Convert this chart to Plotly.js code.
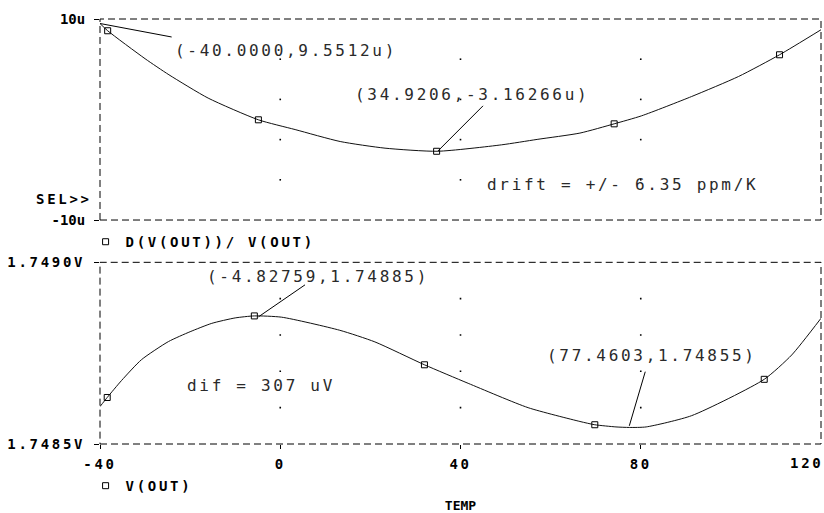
<!DOCTYPE html>
<html><head><meta charset="utf-8">
<script src="https://cdn.plot.ly/plotly-3.0.1.min.js"></script>
<style>
html,body{margin:0;padding:0;background:#fff;}
#chart{width:824px;height:513px;}
.annotation-text, .xtick text, .ytick text {letter-spacing:2.7px;}
text.legendtext, text.legend2text {letter-spacing:2.7px !important;}
</style></head><body><div id="chart"></div>
<script>
// ---- top plot: D(V(OUT))/ V(OUT) in micro units ----
const tempTop  = [-40,-38.3,-30,-24.7,-16,-4.85,3.3,13.3,23.25,34.9,49.1,57,66.5,74.1,80.2,91.3,101.7,110.8,120];
const driftTop = [9.55,8.83,6.05,4.45,2.13,-0.03,-1.0,-2.19,-2.85,-3.16,-2.52,-1.98,-1.35,-0.43,0.37,2.29,4.28,6.44,8.93];
const markTopX = [-38.3,-4.85,34.7,74.1,110.8];
const markTopY = [8.83,-0.03,-3.16,-0.43,6.44];

// ---- bottom plot: V(OUT) in volts ----
const tempBot = [-40,-38.4,-35.2,-30.8,-24.8,-20,-15.2,-10,-5.75,0.3,13.2,21,32,41.7,55,66.5,69.8,74.5,77.5,81.2,91.3,107.4,113.5,120];
const voutBot = [1.748603,1.748628,1.748675,1.748732,1.748782,1.748809,1.748832,1.748847,1.7488525,1.748849,1.748813,1.748781,1.748718,1.748667,1.748600,1.748562,1.748553,1.748547,1.7485455,1.748547,1.748578,1.748678,1.748745,1.748846];
const markBotX = [-38.4,-5.75,32,69.8,107.4];
const markBotY = [1.748628,1.7488525,1.748718,1.748553,1.748678];

// ---- grid dots ----
const gridX    = [0,40,80];
const gridTopY = [6,2,-2,-6];
const gridBotY = [1.7489,1.7488,1.7487,1.7486];

// ---- axis tick labels ----
const xTickVals = [-40,0,40,80];
const xTickText = ['-40','0','40','80'];
const yTopVals = [-10,10], yTopText = ['-10u','10u'];
const yBotVals = [1.7485,1.7490], yBotText = ['1.7485V','1.7490V'];

// ---- cursors (point, label tail) ----
const curTopX = [-40, 34.9206], curTopY = [9.5512, -3.16266];
const curTopTailX = [-24.1, 45.0], curTopTailY = [8.21, 1.36];
const curBotX = [-4.82759, 77.4603], curBotY = [1.74885, 1.74855];
const curBotTailX = [5.5, 81.0], curBotTailY = [1.748938, 1.748699];

// ---- text labels ----
const topLabels = ['(-40.0000,9.5512u)','(34.9206,-3.16266u)','drift = +/- 6.35 ppm/K'];
const topLabelX = [-23.8, 16.15, 45.4];
const topLabelY = [6.84, 2.46, -6.5];
const botLabels = ['(-4.82759,1.74885)','dif = 307 uV','(77.4603,1.74855)'];
const botLabelX = [-16.7, -21.1, 58.8];
const botLabelY = [1.7489596, 1.74866, 1.748743];

const FONT = 'DejaVu Sans Mono';
const gx = [], gyT = [], gyB = [], gxB = [];
gridX.forEach(x => { gridTopY.forEach(y => { gx.push(x); gyT.push(y); }); gridBotY.forEach(y => { gxB.push(x); gyB.push(y); }); });

const traces = [
  {x: gx, y: gyT, xaxis:'x2', yaxis:'y2', mode:'markers', marker:{symbol:'square', size:1.6, color:'#000'}, showlegend:false, hoverinfo:'skip'},
  {x: gxB, y: gyB, xaxis:'x', yaxis:'y', mode:'markers', marker:{symbol:'square', size:1.6, color:'#000'}, showlegend:false, hoverinfo:'skip'},
  {x: tempTop, y: driftTop, xaxis:'x2', yaxis:'y2', mode:'lines', line:{color:'#111', width:1, shape:'spline', smoothing:0.6}, showlegend:false},
  {x: markTopX, y: markTopY, xaxis:'x2', yaxis:'y2', mode:'markers', name:'D(V(OUT))/ V(OUT)', legend:'legend2',
   marker:{symbol:'square-open', size:6, color:'#000', line:{width:1}}},
  {x: tempBot, y: voutBot, xaxis:'x', yaxis:'y', mode:'lines', line:{color:'#111', width:1, shape:'spline', smoothing:0.6}, showlegend:false},
  {x: markBotX, y: markBotY, xaxis:'x', yaxis:'y', mode:'markers', name:'V(OUT)', legend:'legend',
   marker:{symbol:'square-open', size:6, color:'#000', line:{width:1}}}
];

const tickFont = {family:FONT, size:14, weight:'bold', color:'#000'};
const dash = '7px,4px';
const shapes = [
  {type:'rect', xref:'x domain', yref:'y domain', x0:0, x1:1, y0:0, y1:1, line:{color:'#000', width:1, dash:dash}},
  {type:'rect', xref:'x2 domain', yref:'y2 domain', x0:0, x1:1, y0:0, y1:1, line:{color:'#000', width:1, dash:dash}}
];
curTopX.forEach((x,i) => shapes.push({type:'line', xref:'x2', yref:'y2', x0:x, y0:curTopY[i], x1:curTopTailX[i], y1:curTopTailY[i], line:{color:'#000', width:1}}));
curBotX.forEach((x,i) => shapes.push({type:'line', xref:'x', yref:'y', x0:x, y0:curBotY[i], x1:curBotTailX[i], y1:curBotTailY[i], line:{color:'#000', width:1}}));

const labFont = {family:FONT, size:16, color:'#2a2a2a'};
const annotations = [];
topLabels.forEach((t,i) => annotations.push({text:t, xref:'x2', yref:'y2', x:topLabelX[i], y:topLabelY[i], xanchor:'left', yanchor:'middle', showarrow:false, font:labFont}));
botLabels.forEach((t,i) => annotations.push({text:t, xref:'x', yref:'y', x:botLabelX[i], y:botLabelY[i], xanchor:'left', yanchor:'middle', showarrow:false, font:labFont}));
annotations.push({text:'SEL>>', xref:'paper', yref:'y2', x:-0.008, y:-7.9, xanchor:'right', yanchor:'middle', showarrow:false, font:tickFont});
annotations.push({text:'120', xref:'x', yref:'paper', x:120, y:-0.045, xanchor:'right', yanchor:'middle', xshift:4, showarrow:false, font:tickFont});

const layout = {
  width:824, height:513,
  margin:{l:100, r:3, t:19, b:69},
  paper_bgcolor:'#fff', plot_bgcolor:'#fff',
  font:{family:FONT, color:'#000'},
  xaxis:{domain:[0,1], anchor:'y', range:[-40,120], tickvals:xTickVals, ticktext:xTickText,
    ticks:'outside', ticklen:4, tickcolor:'#000', showgrid:false, zeroline:false, showline:false,
    tickfont:tickFont, ticklabelstandoff:3,
    title:{text:'TEMP', font:{family:FONT, size:13, weight:'bold', color:'#000'}, standoff:32}},
  yaxis:{domain:[0,0.4275], anchor:'x', range:[1.7485,1.7490], tickvals:yBotVals, ticktext:yBotText,
    ticks:'outside', ticklen:5, tickcolor:'#000', showgrid:false, zeroline:false, showline:false,
    tickfont:tickFont, ticklabelstandoff:6},
  xaxis2:{domain:[0,1], anchor:'y2', range:[-40,120], showticklabels:false, ticks:'', showgrid:false, zeroline:false, showline:false},
  yaxis2:{domain:[0.527,1], anchor:'x2', range:[-10,10], tickvals:yTopVals, ticktext:yTopText,
    ticks:'outside', ticklen:5, tickcolor:'#000', showgrid:false, zeroline:false, showline:false,
    tickfont:tickFont, ticklabelstandoff:6},
  legend:{x:-0.02, y:-0.099, xanchor:'left', yanchor:'middle', bgcolor:'rgba(0,0,0,0)', font:tickFont},
  legend2:{x:-0.02, y:0.475, xanchor:'left', yanchor:'middle', bgcolor:'rgba(0,0,0,0)', font:tickFont},
  shapes:shapes,
  annotations:annotations
};

Plotly.newPlot('chart', traces, layout, {staticPlot:true, displayModeBar:false});
</script></body></html>
